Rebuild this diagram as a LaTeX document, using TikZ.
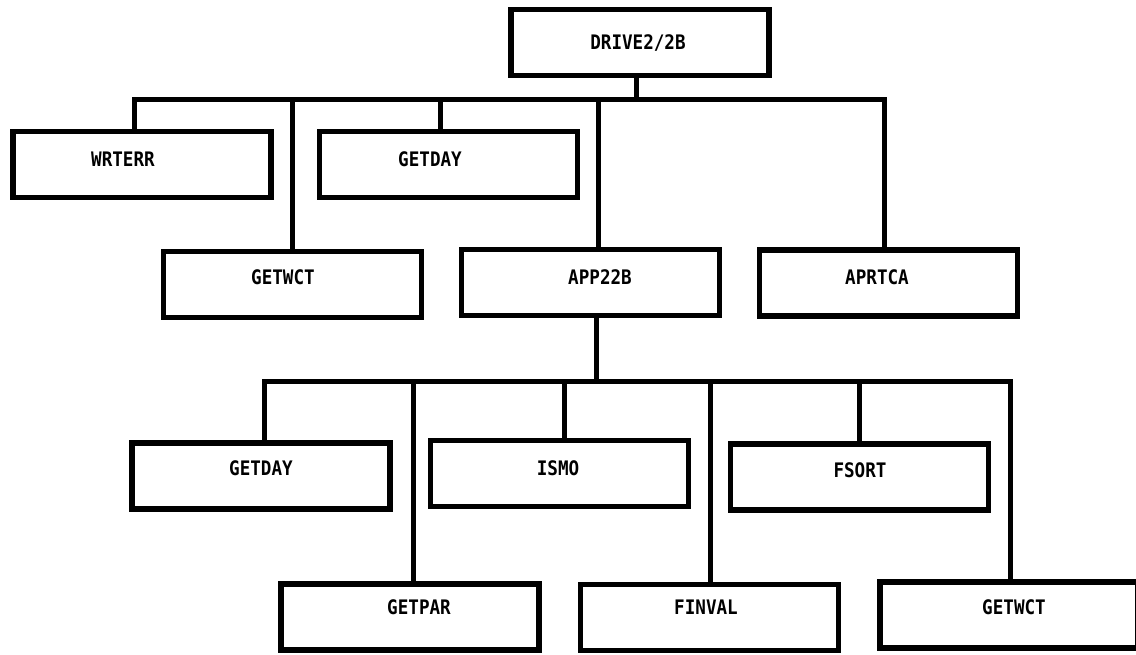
\documentclass[tikz,border=0pt]{standalone}
\usepackage{fontspec}
\newfontfamily\lblfont[FakeStretch=0.88]{DejaVu Sans Mono}
\tikzset{
  box/.style={draw=black, line width=5.5pt, minimum width=258pt, minimum height=66pt, inner sep=0pt},
  lbl/.style={font=\lblfont\bfseries\fontsize{20}{20}\selectfont, inner sep=0pt},
  conn/.style={draw=black, line width=5pt, line cap=rect},
}
\begin{document}
\begin{tikzpicture}[x=1pt,y=-1pt]
\useasboundingbox (0,0) rectangle (1136,654);
\clip (0,0) rectangle (1136,654);
% boxes
\node[box] (drive)   at (640,42.5)  {};
\node[box] (wrterr)  at (142,164.5) {};
\node[box] (getday1) at (448.5,164.5) {};
\node[box] (getwct1) at (292.5,284.5) {};
\node[box] (app22b)  at (590.5,282.5) {};
\node[box] (aprtca)  at (888.5,283) {};
\node[box] (getday2) at (261,476) {};
\node[box] (ismo)    at (559.5,473.5) {};
\node[box] (fsort)   at (859.5,477) {};
\node[box] (getpar)  at (410,617) {};
\node[box] (finval)  at (709.5,617.5) {};
\node[box] (getwct2) at (1009,615) {};
% labels
\node[lbl] (t-drive)   at (638,43)  {DRIVE2/2B};
\node[lbl] (t-wrterr)  at (123,159) {WRTERR};
\node[lbl] (t-getday1) at (430,159) {GETDAY};
\node[lbl] (t-getwct1) at (283,277) {GETWCT};
\node[lbl] (t-app22b)  at (600,277) {APP22B};
\node[lbl] (t-aprtca)  at (877,277) {APRTCA};
\node[lbl] (t-getday2) at (261,468) {GETDAY};
\node[lbl] (t-ismo)    at (558,468) {ISMO};
\node[lbl] (t-fsort)   at (860,470) {FSORT};
\node[lbl] (t-getpar)  at (419,607) {GETPAR};
\node[lbl] (t-finval)  at (706,607) {FINVAL};
\node[lbl] (t-getwct2) at (1014,607) {GETWCT};
% first bus
\coordinate (p1) at (636,99);
\coordinate (a1) at (134,99);
\coordinate (a2) at (292,99);
\coordinate (a3) at (440,99);
\coordinate (a4) at (598,99);
\coordinate (a5) at (884,99);
\draw[conn] (drive.south -| p1) -- (p1);
\draw[conn] (a1) -- (a5);
\draw[conn] (a1) -- (a1 |- wrterr.north);
\draw[conn] (a2) -- (a2 |- getwct1.north);
\draw[conn] (a3) -- (a3 |- getday1.north);
\draw[conn] (a4) -- (a4 |- app22b.north);
\draw[conn] (a5) -- (a5 |- aprtca.north);
% second bus
\coordinate (p2) at (596,381);
\coordinate (b1) at (264,381);
\coordinate (b2) at (413,381);
\coordinate (b3) at (564,381);
\coordinate (b4) at (710,381);
\coordinate (b5) at (859,381);
\coordinate (b6) at (1010,381);
\draw[conn] (app22b.south -| p2) -- (p2);
\draw[conn] (b1) -- (b6);
\draw[conn] (b1) -- (b1 |- getday2.north);
\draw[conn] (b2) -- (b2 |- getpar.north);
\draw[conn] (b3) -- (b3 |- ismo.north);
\draw[conn] (b4) -- (b4 |- finval.north);
\draw[conn] (b5) -- (b5 |- fsort.north);
\draw[conn] (b6) -- (b6 |- getwct2.north);
\end{tikzpicture}
\end{document}
